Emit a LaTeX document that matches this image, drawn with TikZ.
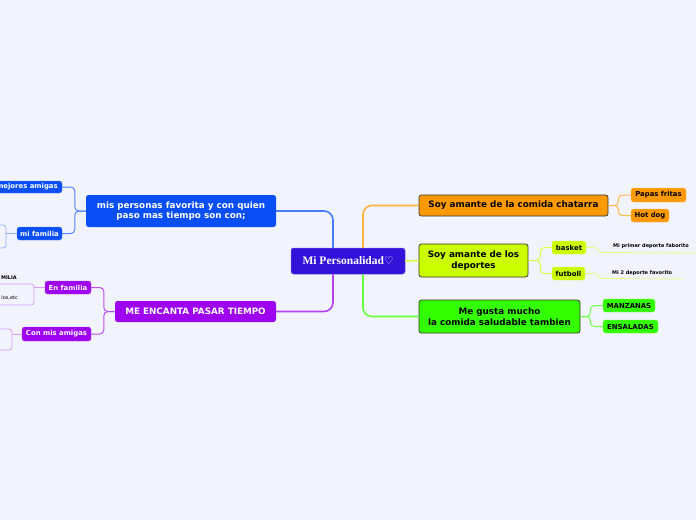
\documentclass[tikz,border=0pt]{standalone}
\usepackage{fontspec}
\setmainfont{DejaVu Sans}
\newfontfamily\serifb{Liberation Serif}
\newfontfamily\heartf{DejaVu Sans}
\usetikzlibrary{calc}
\definecolor{bg}{HTML}{F2F4FD}
\definecolor{cent}{HTML}{3312D9}
\definecolor{bl}{HTML}{0A4FF6}
\definecolor{pu}{HTML}{9E00F0}
\definecolor{orx}{HTML}{FF9900}
\definecolor{yg}{HTML}{CCFF00}
\definecolor{gr}{HTML}{33FF00}
\begin{document}
\begin{tikzpicture}[x=1pt,y=-1pt,
  box/.style={rounded corners=2.5pt, inner sep=0pt, align=center, font=\bfseries},
  mainbox/.style={box, draw=black!80, line width=0.7pt, text=black, font=\bfseries\fontsize{8.8}{10.5}\selectfont},
  leftbox/.style={box, text=white, font=\bfseries\fontsize{8.8}{10.5}\selectfont},
  subbox/.style={box, text=black, font=\bfseries\fontsize{6.9}{8}\selectfont},
  wsubbox/.style={box, text=white, font=\bfseries\fontsize{6.9}{8}\selectfont},
  outbox/.style={rounded corners=3pt, inner sep=0pt, line width=0.8pt},
  tiny/.style={inner sep=0pt, font=\bfseries\fontsize{5}{6}\selectfont, text=black},
  mainline/.style={line width=1.6pt, rounded corners=9pt},
  subline/.style={line width=1pt, rounded corners=4pt}
]
\useasboundingbox (0,0) rectangle (696,520);
\fill[bg] (0,0) rectangle (696,520);
\clip (0,0) rectangle (696,520);

% central
\node[box, fill=cent, text=white, minimum width=114pt, minimum height=26pt, draw=cent!70!white, line width=0.5pt,
  font=\serifb\bfseries\fontsize{11.5}{13}\selectfont] (c) at (348,261) {Mi Personalidad{\heartf\mdseries\fontsize{10.5}{12}\selectfont ♡}};

% left main
\node[leftbox, fill=bl, minimum width=190pt, minimum height=32pt] (mpf) at (181,211) {mis personas favorita y con quien\\paso mas tiempo son con;};
\node[leftbox, fill=pu, minimum width=161pt, minimum height=21pt] (mep) at (195.5,311.5) {ME ENCANTA PASAR TIEMPO};

% right main
\node[mainbox, fill=orx, minimum width=189pt, minimum height=21pt] (chat) at (513.5,205.5) {Soy amante de la comida chatarra};
\node[mainbox, fill=yg, minimum width=109pt, minimum height=33pt] (dep) at (473.5,260.5) {Soy amante de los\\deportes};
\node[mainbox, fill=gr, minimum width=161pt, minimum height=33pt] (sal) at (499.5,316.5) {Me gusta mucho\\la comida saludable tambien};

% right subs
\node[subbox, fill=orx, draw=orx!70!white, minimum width=55pt, minimum height=14pt] (papas) at (658.5,195) {Papas fritas};
\node[subbox, fill=orx, draw=orx!70!white, minimum width=38pt, minimum height=13pt] (hot) at (650,215.5) {Hot dog};
\node[subbox, fill=yg, draw=yg!70!white, minimum width=34pt, minimum height=13pt] (basket) at (569,247.5) {basket};
\node[subbox, fill=yg, draw=yg!70!white, minimum width=33pt, minimum height=13pt] (futboll) at (568.5,273.5) {futboll};
\node[subbox, fill=gr, draw=gr!70!white, minimum width=52pt, minimum height=13pt] (manz) at (629,305.5) {MANZANAS};
\node[subbox, fill=gr, draw=gr!70!white, minimum width=55pt, minimum height=13pt] (ens) at (630.5,326.5) {ENSALADAS};

% left subs
\node[wsubbox, fill=bl, draw=bl!70!white, minimum width=70pt, minimum height=12pt] (mej) at (27,187) {mejores amigas};
\node[wsubbox, fill=bl, draw=bl!70!white, minimum width=45pt, minimum height=13pt] (mif) at (39.5,233.5) {mi familia};
\node[wsubbox, fill=pu, draw=pu!70!white, minimum width=46pt, minimum height=13pt] (enf) at (68,287.5) {En familia};
\node[wsubbox, fill=pu, draw=pu!70!white, minimum width=69pt, minimum height=14pt] (cma) at (56.5,334) {Con mis amigas};

% left outline boxes
\node[outbox, draw=bl!45!white, minimum width=36pt, minimum height=23pt] (mfbox) at (-12,236.5) {};
\node[outbox, draw=pu!40!white, minimum width=60pt, minimum height=21pt] (enfbox) at (4,294.5) {};
\node[outbox, draw=pu!40!white, minimum width=44pt, minimum height=21pt] (cmabox) at (-10,339.5) {};
\node[tiny, anchor=east] (milia) at (17,278) {MILIA};
\node[tiny, anchor=east, font=\mdseries\fontsize{5}{6}\selectfont] (etc) at (18,298) {los,etc};

% right texts
\coordinate (bk) at (700,253);
\coordinate (fb) at (683,279);
\node[tiny, anchor=west] (t1) at (613,246.5) {Mi primer deporte faborito};
\node[tiny, anchor=west] (t2) at (612,273.5) {Mi 2 deporte favorito};

% main connectors
\draw[mainline, draw=bl!75!white] ([xshift=-15pt]c.north) |- (mpf.east);
\draw[mainline, draw=pu!75!white] ([xshift=-15pt]c.south) |- (mep.east);
\draw[mainline, draw=orx!75!white] ([xshift=15pt]c.north) |- (chat.west);
\draw[mainline, draw=yg!75!white] (c.east) -- (dep.west);
\draw[mainline, draw=gr!75!white] ([xshift=15pt]c.south) |- (sal.west);

% sub connectors
\draw[subline, draw=orx!70!white] (chat.east) -- ++(10,0) |- (papas.west);
\draw[subline, draw=orx!70!white] (chat.east) -- ++(10,0) |- (hot.west);
\draw[subline, draw=yg!70!white] (dep.east) -- ++(12,0) |- (basket.west);
\draw[subline, draw=yg!70!white] (dep.east) -- ++(12,0) |- (futboll.west);
\draw[subline, draw=gr!70!white] (sal.east) -- ++(10,0) |- (manz.west);
\draw[subline, draw=gr!70!white] (sal.east) -- ++(10,0) |- (ens.west);
\draw[subline, draw=bl!70!white] (mpf.west) -- ++(-11,0) |- (mej.east);
\draw[subline, draw=bl!70!white] (mpf.west) -- ++(-11,0) |- (mif.east);
\draw[subline, draw=pu!70!white] (mep.west) -- ++(-11,0) |- (enf.east);
\draw[subline, draw=pu!70!white] (mep.west) -- ++(-11,0) |- (cma.east);

% leaf connectors
\draw[line width=0.8pt, draw=yg!50!white] (basket.east) -- ++(8,0) to[out=0,in=180] ++(8,5) -- (bk);
\draw[line width=0.8pt, draw=yg!50!white] (futboll.east) -- ++(9,0) to[out=0,in=180] ++(8,5) -- (fb);
\draw[line width=0.8pt, draw=bl!45!white] (mif.west) -- (mif.west -| mfbox.east);
\draw[line width=0.8pt, draw=pu!40!white] (enf.west) -- (enf.west -| enfbox.east);
\draw[line width=0.8pt, draw=pu!40!white] (cma.west) -- (cma.west -| cmabox.east);
\end{tikzpicture}
\end{document}
